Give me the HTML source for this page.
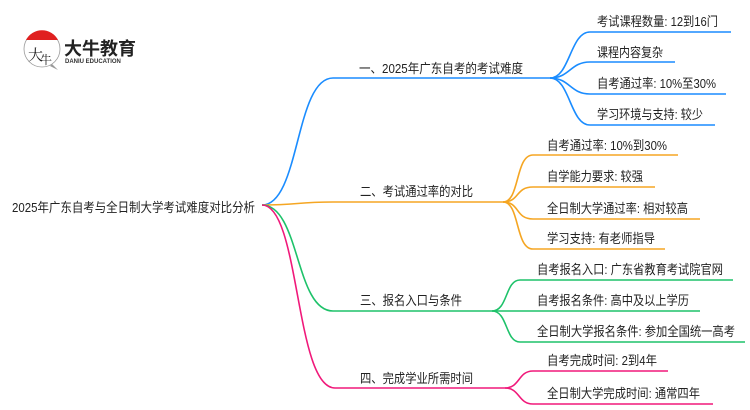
<!DOCTYPE html>
<html><head><meta charset="utf-8"><style>
body{margin:0;background:#fff;}
svg{display:block;}
text{font-family:"Liberation Sans","Noto Sans CJK SC",sans-serif;fill:#222;font-size:13px;}
</style></head><body>
<svg width="750" height="410" viewBox="0 0 750 410" xmlns="http://www.w3.org/2000/svg">
<!-- logo -->
<circle cx="42" cy="49" r="18" fill="#fff" stroke="#999" stroke-width="0.8"/>
<path d="M26 40 A18 18 0 0 1 58 40 Z" fill="#e02020"/>
<path d="M52 64 L58 70 L50 66 Z" fill="#999"/>
<text x="28" y="60" style="font-size:15px;font-family:'Noto Serif CJK SC',serif">大</text>
<text x="40" y="64" style="font-size:12px;font-family:'Noto Serif CJK SC',serif">牛</text>
<text x="64" y="55" style="font-size:18px;font-weight:bold;fill:#222">大牛教育</text>
<text x="65" y="63" style="font-size:6px;font-weight:bold;fill:#333">DANIU EDUCATION</text>

<g fill="none" stroke-width="1.6">
<path d="M262 205 C300 205,295 78,333 78 L550 78" stroke="#1a8cff"/>
<path d="M262 205 C300 205,295 202,333 202 L503 202" stroke="#f5a623"/>
<path d="M262 205 C300 205,295 311,333 311 L492 311" stroke="#1ec26a"/>
<path d="M262 205 C300 205,295 388,335 388 L505 388" stroke="#f0197a"/>
<g stroke="#1a8cff">
<path d="M550 78 C570 78,570 32,590 32 L731 32"/>
<path d="M550 78 C570 78,570 62,590 62 L675 62"/>
<path d="M550 78 C570 78,570 94,590 94 L726 94"/>
<path d="M550 78 C570 78,570 125,590 125 L715 125"/>
</g>
<g stroke="#f5a623">
<path d="M503 202 C520 202,515 155,533 155 L678 155"/>
<path d="M503 202 C520 202,515 187,533 187 L655 187"/>
<path d="M503 202 C520 202,515 219,533 219 L700 219"/>
<path d="M503 202 C520 202,515 249,533 249 L665 249"/>
</g>
<g stroke="#1ec26a">
<path d="M492 311 C508 311,505 280,520 280 L733 280"/>
<path d="M492 311 L700 311"/>
<path d="M492 311 C508 311,505 342,520 342 L745 342"/>
</g>
<g stroke="#f0197a">
<path d="M505 388 C520 388,518 371,533 371 L668 371"/>
<path d="M505 388 C520 388,518 404,533 404 L713 404"/>
</g>
</g>

<text x="12" y="212" textLength="243" lengthAdjust="spacingAndGlyphs">2025年广东自考与全日制大学考试难度对比分析</text>
<text x="359" y="73" textLength="164" lengthAdjust="spacingAndGlyphs">一、2025年广东自考的考试难度</text>
<text x="360" y="196" textLength="113" lengthAdjust="spacingAndGlyphs">二、考试通过率的对比</text>
<text x="360" y="305" textLength="102" lengthAdjust="spacingAndGlyphs">三、报名入口与条件</text>
<text x="360" y="383" textLength="113" lengthAdjust="spacingAndGlyphs">四、完成学业所需时间</text>

<text x="597" y="26" textLength="121" lengthAdjust="spacingAndGlyphs">考试课程数量: 12到16门</text>
<text x="597" y="57" textLength="66" lengthAdjust="spacingAndGlyphs">课程内容复杂</text>
<text x="597" y="88" textLength="119" lengthAdjust="spacingAndGlyphs">自考通过率: 10%至30%</text>
<text x="597" y="119" textLength="106" lengthAdjust="spacingAndGlyphs">学习环境与支持: 较少</text>

<text x="547" y="150" textLength="120" lengthAdjust="spacingAndGlyphs">自考通过率: 10%到30%</text>
<text x="547" y="181" textLength="96" lengthAdjust="spacingAndGlyphs">自学能力要求: 较强</text>
<text x="547" y="213" textLength="141" lengthAdjust="spacingAndGlyphs">全日制大学通过率: 相对较高</text>
<text x="547" y="243" textLength="108" lengthAdjust="spacingAndGlyphs">学习支持: 有老师指导</text>

<text x="537" y="274" textLength="186" lengthAdjust="spacingAndGlyphs">自考报名入口: 广东省教育考试院官网</text>
<text x="537" y="305" textLength="152" lengthAdjust="spacingAndGlyphs">自考报名条件: 高中及以上学历</text>
<text x="537" y="336" textLength="198" lengthAdjust="spacingAndGlyphs">全日制大学报名条件: 参加全国统一高考</text>

<text x="547" y="365" textLength="110" lengthAdjust="spacingAndGlyphs">自考完成时间: 2到4年</text>
<text x="547" y="398" textLength="153" lengthAdjust="spacingAndGlyphs">全日制大学完成时间: 通常四年</text>
</svg>
</body></html>
